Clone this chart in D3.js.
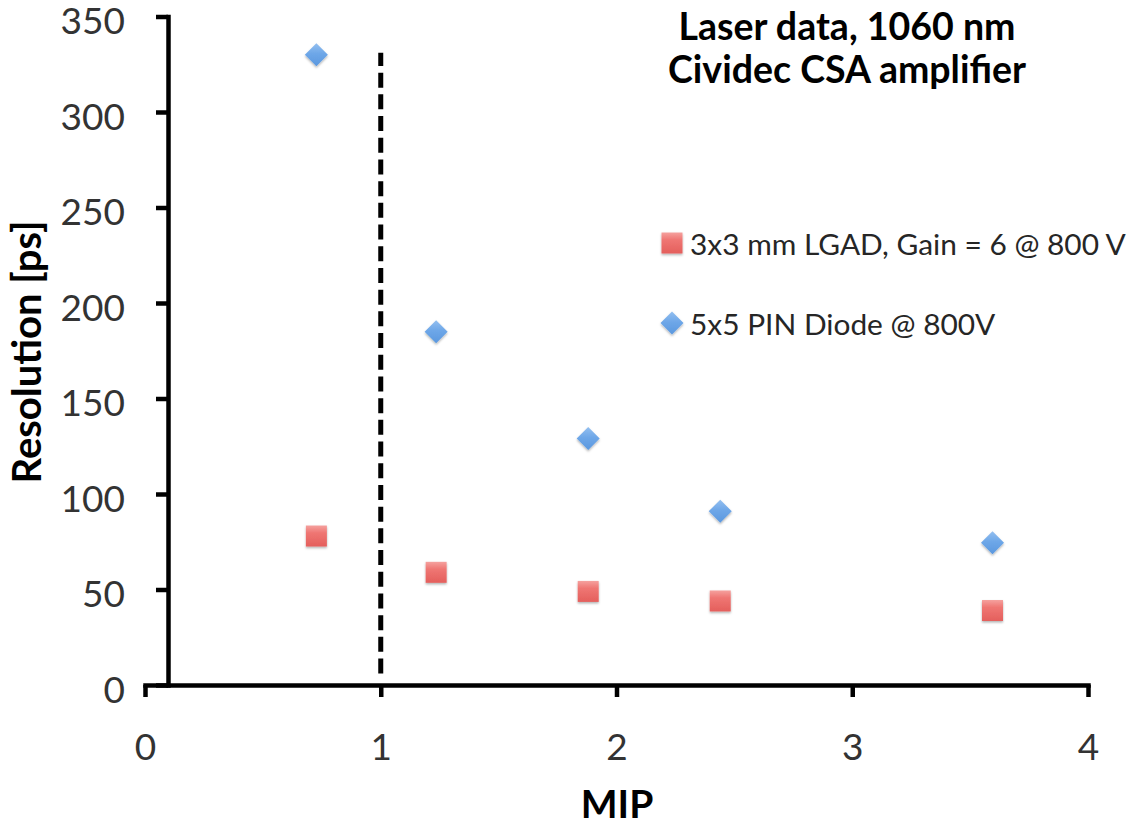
<!DOCTYPE html>
<html>
<head>
<meta charset="utf-8">
<script src="https://cdn.jsdelivr.net/npm/d3@7"></script>
<style>
  html, body { margin: 0; padding: 0; background: #fff; }
  svg { display: block; }
  text { font-family: Lato, "Open Sans", sans-serif; }
</style>
</head>
<body>
<svg id="chart" width="1134" height="829"></svg>
<script>
// Timing resolution vs. signal amplitude (in MIP units)
const mip = [0.727, 1.235, 1.88, 2.44, 3.595];
const lgadRes = [78, 59, 49, 44, 39];
const pinRes = [330, 185, 129, 91, 74.5];
const xTicks = [0, 1, 2, 3, 4];
const yTicks = [0, 50, 100, 150, 200, 250, 300, 350];
const oneMipLine = [{ x: 1, y: 6 }, { x: 1, y: 331 }];
const seriesNames = ["3x3 mm LGAD, Gain = 6 @ 800 V", "5x5 PIN Diode @ 800V"];
const titleLines = ["Laser data, 1060 nm", "Cividec CSA amplifier"];

const svg = d3.select("#chart");

const x = d3.scaleLinear().domain([0, 4]).range([145, 1088]);
const y = d3.scaleLinear().domain([0, 350]).range([685, 16.5]);

// marker fills and shadow
const defs = svg.append("defs");
const gRed = defs.append("linearGradient").attr("id", "gRed")
  .attr("x1", 0).attr("y1", 0).attr("x2", 0).attr("y2", 1);
gRed.append("stop").attr("offset", "0%").attr("stop-color", "#f5a19e");
gRed.append("stop").attr("offset", "35%").attr("stop-color", "#ef7673");
gRed.append("stop").attr("offset", "100%").attr("stop-color", "#e45f5c");
const gBlue = defs.append("linearGradient").attr("id", "gBlue")
  .attr("x1", 0).attr("y1", 0).attr("x2", 0).attr("y2", 1);
gBlue.append("stop").attr("offset", "0%").attr("stop-color", "#93bff0");
gBlue.append("stop").attr("offset", "45%").attr("stop-color", "#6ea7e8");
gBlue.append("stop").attr("offset", "100%").attr("stop-color", "#5b98df");
const sh = defs.append("filter").attr("id", "shadow")
  .attr("x", "-50%").attr("y", "-50%").attr("width", "200%").attr("height", "200%");
sh.append("feDropShadow").attr("dx", 0).attr("dy", 1.5)
  .attr("stdDeviation", 1.2).attr("flood-color", "#000").attr("flood-opacity", 0.3);

// axes
const yAxis = svg.append("g").attr("transform", "translate(168,0)")
  .call(d3.axisLeft(y).tickValues(yTicks).tickFormat(d3.format("d"))
    .tickSize(12).tickSizeOuter(0).tickPadding(31));
const xAxis = svg.append("g").attr("transform", `translate(0,${y(0)})`)
  .call(d3.axisBottom(x).tickValues(xTicks).tickFormat(d3.format("d"))
    .tickSize(12).tickSizeOuter(0).tickPadding(36));

[yAxis, xAxis].forEach(ax => {
  ax.select(".domain").attr("stroke", "#000").attr("stroke-width", 4.5)
    .attr("stroke-linecap", "square");
  ax.selectAll(".tick line").attr("stroke", "#000").attr("stroke-width", 4.5);
  ax.selectAll(".tick text").attr("fill", "#333").attr("font-size", 37)
    .style("font-family", "Lato, 'Open Sans', sans-serif");
});
yAxis.selectAll(".tick text").attr("dy", "0.47em");
xAxis.selectAll(".tick text").attr("dy", "0.72em");

// 1 MIP reference line
svg.append("path").datum(oneMipLine)
  .attr("d", d3.line().x(d => x(d.x)).y(d => y(d.y)))
  .attr("stroke", "#000").attr("stroke-width", 5)
  .attr("stroke-dasharray", "15,6.7").attr("fill", "none");

// markers
const sq = 21, dia = 11.5;
const squarePath = `M${-sq / 2},${-sq / 2}h${sq}v${sq}h${-sq}Z`;
const diamondPath = `M0,${-dia}L${dia},0L0,${dia}L${-dia},0Z`;

svg.append("g").selectAll("path").data(mip.map((m, i) => ({ x: m, y: lgadRes[i] })))
  .join("path")
  .attr("transform", d => `translate(${x(d.x)},${y(d.y)})`)
  .attr("d", squarePath).attr("fill", "url(#gRed)").attr("filter", "url(#shadow)");

svg.append("g").selectAll("path").data(mip.map((m, i) => ({ x: m, y: pinRes[i] })))
  .join("path")
  .attr("transform", d => `translate(${x(d.x)},${y(d.y)})`)
  .attr("d", diamondPath).attr("fill", "url(#gBlue)").attr("filter", "url(#shadow)");

// legend
const legend = svg.append("g").attr("transform", "translate(672,243)");
const items = legend.selectAll("g").data(seriesNames).join("g")
  .attr("transform", (d, i) => `translate(0,${i * 80})`);
items.append("path")
  .attr("d", (d, i) => i === 0 ? squarePath : diamondPath)
  .attr("fill", (d, i) => i === 0 ? "url(#gRed)" : "url(#gBlue)")
  .attr("filter", "url(#shadow)");
const legendText = items.append("text").attr("x", 18).attr("y", 12)
  .attr("font-size", 30).attr("fill", "#262626").text(d => d);
// fit the longest entry into the space right of the plot markers
const longest = legendText.nodes()[0].getComputedTextLength();
const legendSize = Math.min(30, 30 * 436 / longest);
legendText.attr("font-size", legendSize);

// title
svg.append("g").selectAll("text").data(titleLines).join("text")
  .attr("x", 847).attr("y", (d, i) => 40 + i * 43)
  .attr("text-anchor", "middle").attr("font-size", 37.5).attr("font-weight", 700)
  .attr("fill", "#000").text(d => d);

// axis titles
svg.append("text").attr("x", 617).attr("y", 818)
  .attr("text-anchor", "middle").attr("font-size", 39).attr("font-weight", 700)
  .attr("fill", "#000").text("MIP");
svg.append("text").attr("transform", "translate(41,352) rotate(-90)")
  .attr("text-anchor", "middle").attr("font-size", 40).attr("font-weight", 700)
  .attr("fill", "#000").text("Resolution [ps]");
</script>
</body>
</html>
